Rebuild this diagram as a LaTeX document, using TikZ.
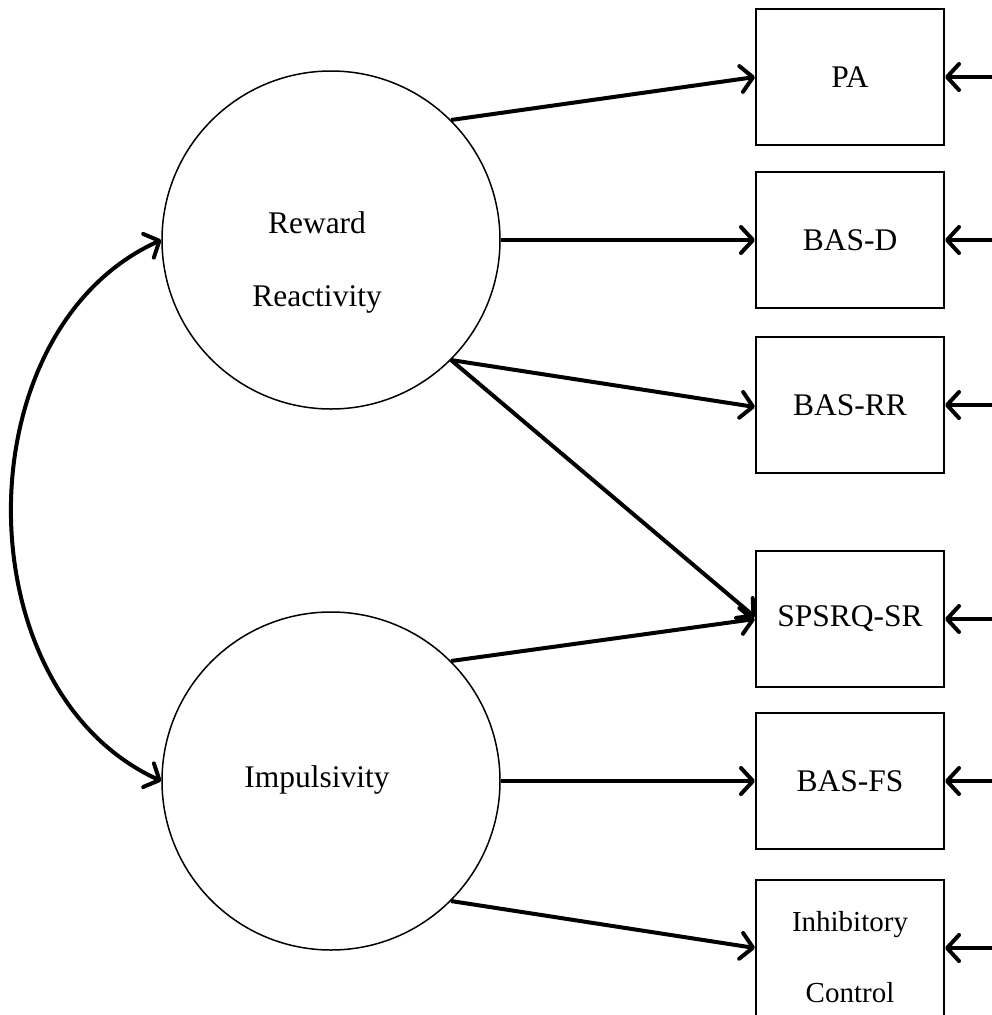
\documentclass[tikz,border=0pt]{standalone}
\usepackage{fontspec}
\setmainfont{Liberation Serif}
\usetikzlibrary{arrows.meta}
\begin{document}
\begin{tikzpicture}[x=1pt,y=-1pt,
  latent/.style={circle,draw,line width=1.5pt,minimum size=338pt,inner sep=0pt},
  obs/.style={rectangle,draw,line width=2pt,minimum width=188pt,minimum height=136pt,inner sep=0pt},
  lbl/.style={font=\fontsize{31.5}{73}\selectfont,align=center,inner sep=0pt},
  tip/.style={},
  path/.style={line width=4pt,-{Straight Barb[length=12pt,width=26pt,line cap=round,line join=round]}},
  dpath/.style={line width=4pt,{Straight Barb[length=12pt,width=26pt,line cap=round,line join=round]}-{Straight Barb[length=12pt,width=26pt,line cap=round,line join=round]}}
]
\useasboundingbox (0,0) rectangle (992,1015);
% latent variables
\node[latent] (RR) at (331,240) {};
\node[latent] (IMP) at (331,781) {};
\node[lbl] (RRt) at (317,262) {Reward\\Reactivity};
\node[lbl] (IMPt) at (317,780) {Impulsivity};
% observed
\node[obs] (PA) at (850,77) {};
\node[obs] (BASD) at (850,240) {};
\node[obs] (BASRR) at (850,405) {};
\node[obs] (SPS) at (850,619) {};
\node[obs] (BASFS) at (850,781) {};
\node[obs] (IC) at (850,948) {};
\node[lbl] (PAt) at (850,77) {PA};
\node[lbl] (BASDt) at (850,240) {BAS-D};
\node[lbl] (BASRRt) at (850,405) {BAS-RR};
\node[lbl] (SPSt) at (850,619) {SPSRQ-SR};
\node[lbl] (BASFSt) at (850,781) {BAS-FS};
\node[lbl,font=\fontsize{29}{71}\selectfont] (ICt) at (850,957) {Inhibitory\\Control};
% loadings
\draw[path] (RR.45) -- (PA.west);
\draw[path] (RR.east) -- (BASD.west);
\draw[path] (RR.-45) -- ([yshift=-2pt]BASRR.west);
\draw[path] (RR.-45) -- ([yshift=2pt]SPS.west);
\draw[path] (IMP.45) -- (SPS.west);
\draw[path] (IMP.east) -- (BASFS.west);
\draw[path] (IMP.-45) -- (IC.west);
% errors
\foreach \n in {PA,BASD,BASRR,SPS,BASFS,IC}{
  \coordinate (e\n) at (992,0 |- \n.east);
  \draw[path] (e\n) -- (\n.east);
}
% correlation
\draw[dpath] (RR.west) .. controls (-38,330) and (-38,690) .. (IMP.west);
\end{tikzpicture}
\end{document}
